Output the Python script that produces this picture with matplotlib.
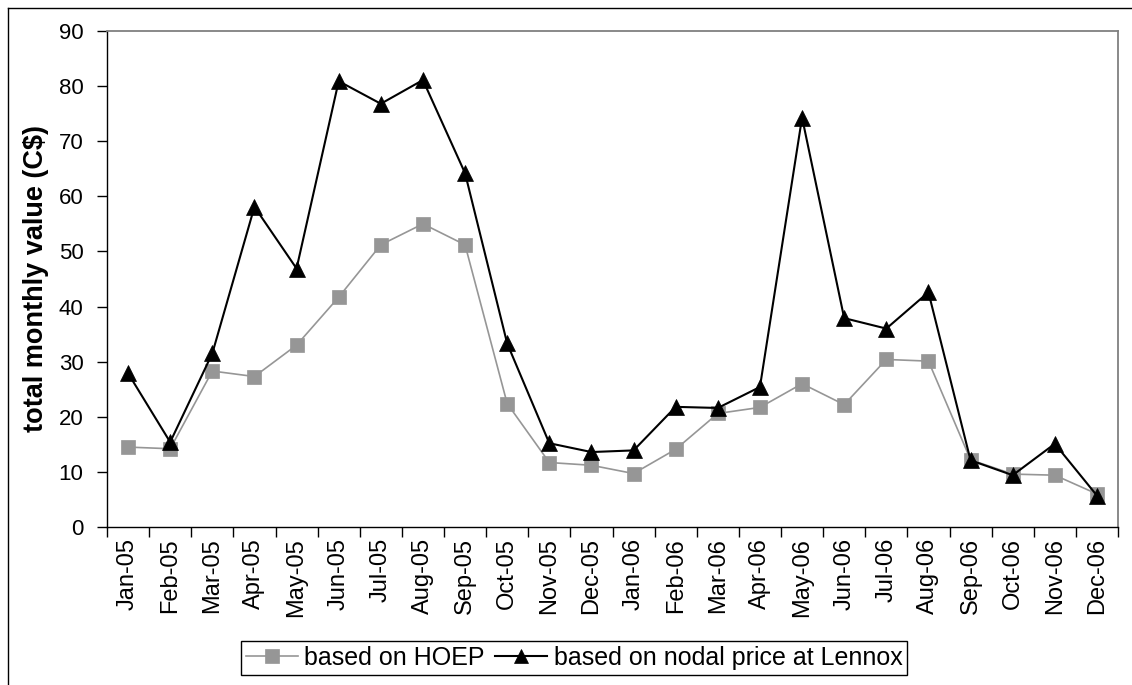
import matplotlib
matplotlib.use("Agg")
import matplotlib.pyplot as plt
from matplotlib import font_manager
from matplotlib.lines import Line2D

months = ["Jan-05", "Feb-05", "Mar-05", "Apr-05", "May-05", "Jun-05", "Jul-05",
          "Aug-05", "Sep-05", "Oct-05", "Nov-05", "Dec-05", "Jan-06", "Feb-06",
          "Mar-06", "Apr-06", "May-06", "Jun-06", "Jul-06", "Aug-06", "Sep-06",
          "Oct-06", "Nov-06", "Dec-06"]
hoep = [14.5, 14.2, 28.3, 27.3, 33.0, 41.7, 51.2, 55.0, 51.2, 22.4, 11.7, 11.2,
        9.7, 14.1, 20.6, 21.7, 26.0, 22.2, 30.4, 30.1, 12.2, 9.6, 9.4, 6.0]
nodal = [27.9, 15.4, 31.5, 58.1, 46.9, 80.9, 76.8, 81.1, 64.2, 33.3, 15.2, 13.6,
         13.9, 21.8, 21.6, 25.4, 74.3, 37.9, 36.0, 42.6, 12.1, 9.4, 15.1, 5.7]
yticks = list(range(0, 91, 10))
series_names = ["based on HOEP", "based on nodal price at Lennox"]

plt.rcParams['font.family'] = ['Liberation Sans', 'DejaVu Sans']

names = {f.name for f in font_manager.fontManager.ttflist}
if 'Liberation Sans Narrow' in names:
    leg_family = ['Liberation Sans Narrow', 'Liberation Sans']
    leg_size = 21
else:
    leg_family = ['Liberation Sans', 'DejaVu Sans']
    leg_size = 18

fig = plt.figure(figsize=(11.32, 6.85), dpi=100)
ax = fig.add_axes([107/1132, 1 - 527/685, (1118 - 107)/1132, (527 - 31)/685])

x = list(range(len(months)))
grey = '#969696'
ax.plot(x, hoep, color=grey, lw=1.2, marker='s', markersize=10.5,
        markerfacecolor=grey, markeredgecolor=grey, markeredgewidth=0.5,
        label=series_names[0], zorder=3)
ax.plot(x, nodal, color='black', lw=1.5, marker='^', markersize=12,
        markerfacecolor='black', markeredgecolor='black', markeredgewidth=0.5,
        label=series_names[1], zorder=4)

ax.set_xlim(-0.5, len(months) - 0.5)
ax.set_ylim(0, 90)
ax.set_yticks(yticks)
ax.set_yticklabels([str(v) for v in yticks], fontsize=16)
ax.set_xticks([i - 0.5 for i in range(len(months) + 1)])
ax.set_xticklabels([])
ax.set_xticks(x, minor=True)
ax.set_xticklabels(months, minor=True, rotation=90, fontsize=17)
ax.tick_params(axis='x', which='major', length=7, width=1, direction='out', color='black')
ax.tick_params(axis='x', which='minor', length=0, pad=8)
ax.tick_params(axis='y', length=7, width=1, direction='out', pad=10)

ax.set_ylabel("total monthly value (C$)", fontsize=19.5, fontweight='bold', labelpad=7)

for s in ['left', 'bottom']:
    ax.spines[s].set_color('black')
    ax.spines[s].set_linewidth(1.0)
for s in ['top', 'right']:
    ax.spines[s].set_color('#808080')
    ax.spines[s].set_linewidth(1.3)

leg = fig.legend(loc='center', bbox_to_anchor=(574/1132, 1 - 658/685), ncol=2,
                 frameon=True, fancybox=False, edgecolor='black', framealpha=1,
                 prop={'family': leg_family, 'size': leg_size},
                 handlelength=2.1, handletextpad=0.25, columnspacing=0.4,
                 borderpad=0.2, borderaxespad=0)
leg.get_frame().set_linewidth(1.0)
for h in leg.legend_handles:
    h.set_markersize(10)

# outer chart frame (top and left edges visible)
fig.add_artist(Line2D([8/1132, 1.0], [1 - 8/685, 1 - 8/685], color='black', lw=1.0,
                      transform=fig.transFigure))
fig.add_artist(Line2D([8/1132, 8/1132], [0.0, 1 - 8/685], color='black', lw=1.0,
                      transform=fig.transFigure))

fig.savefig("out.png", dpi=100)
